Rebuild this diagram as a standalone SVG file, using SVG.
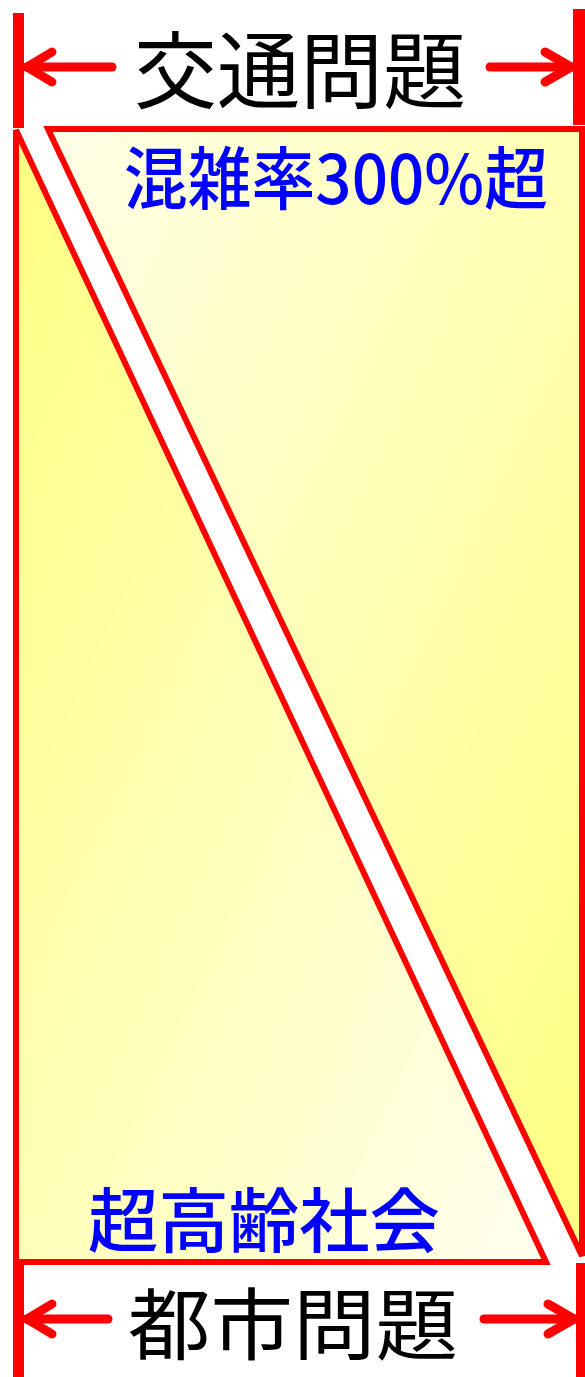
<svg xmlns="http://www.w3.org/2000/svg" width="585" height="1377" viewBox="0 0 585 1377">
<style>
.shape{stroke:#FF0000;stroke-width:6;stroke-linejoin:miter}
.bar{fill:#FF0000}
.arr{stroke:#FF0000;stroke-width:9;stroke-linecap:round;stroke-linejoin:round;fill:none}
.big{font-family:"Noto Sans CJK JP","Noto Sans CJK SC",sans-serif;fill:#000000;text-anchor:middle}
.blue{font-family:"Noto Sans CJK JP","Noto Sans CJK SC",sans-serif;font-weight:500;fill:#0000FF;text-anchor:middle}
</style>
<defs>
<linearGradient id="gL" x1="0" y1="0" x2="1" y2="1">
<stop offset="0" stop-color="#FFFF80"/>
<stop offset="1" stop-color="#FFFFF0"/>
</linearGradient>
<linearGradient id="gR" x1="0" y1="0" x2="1" y2="1">
<stop offset="0" stop-color="#FFFFE8"/>
<stop offset="1" stop-color="#FFFF80"/>
</linearGradient>
</defs>
<g id="urban-triangle">
<polygon class="shape" fill="url(#gL)" points="16,130 16,1262 546,1262"/>
<text class="blue" x="264" y="1247" font-size="70" textLength="352" lengthAdjust="spacingAndGlyphs">超高齢社会</text>
</g>
<g id="traffic-triangle">
<polygon class="shape" fill="url(#gR)" points="48,129 582,129 582,1256"/>
<text class="blue" x="336" y="204" font-size="68" textLength="424" lengthAdjust="spacingAndGlyphs">混雑率300%超</text>
</g>
<g id="connectors">
<rect class="bar" x="13" y="13" width="11" height="115"/>
<rect class="bar" x="573" y="9" width="12" height="116"/>
<rect class="bar" x="13" y="1262" width="11" height="115"/>
<rect class="bar" x="576" y="1263" width="9" height="114"/>
<line class="arr" x1="27" y1="67" x2="112" y2="67"/>
<polyline class="arr" points="52,52 27,67 52,82"/>
<line class="arr" x1="490" y1="67" x2="571" y2="67"/>
<polyline class="arr" points="545,52 571,67 545,82"/>
<line class="arr" x1="27" y1="1319" x2="108" y2="1319"/>
<polyline class="arr" points="52,1304 27,1319 52,1334"/>
<line class="arr" x1="484" y1="1319" x2="574" y2="1319"/>
<polyline class="arr" points="548,1304 574,1319 548,1334"/>
</g>
<g id="traffic-label">
<text class="big" x="300" y="102" font-size="84" textLength="332" lengthAdjust="spacingAndGlyphs">交通問題</text>
</g>
<g id="urban-label">
<text class="big" x="293" y="1354" font-size="78" textLength="330" lengthAdjust="spacingAndGlyphs">都市問題</text>
</g>
</svg>
